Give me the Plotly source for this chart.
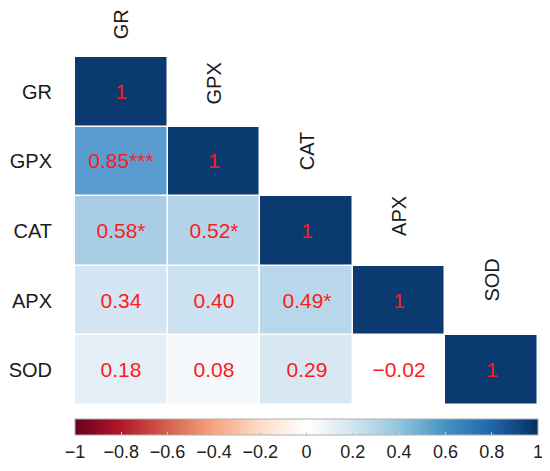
import plotly.graph_objects as go

# correlation matrix (lower triangle), rows/cols in the same order
labels = ["GR", "GPX", "CAT", "APX", "SOD"]
corr = [
    [1, None, None, None, None],
    [0.85, 1, None, None, None],
    [0.58, 0.52, 1, None, None],
    [0.34, 0.40, 0.49, 1, None],
    [0.18, 0.08, 0.29, -0.02, 1],
]
stars = [
    ["", "", "", "", ""],
    ["***", "", "", "", ""],
    ["*", "*", "", "", ""],
    ["", "", "*", "", ""],
    ["", "", "", "", ""],
]

# colour ramp for the bar (RdBu)
rdbu = ["#67001f", "#b2182b", "#d6604d", "#f4a582", "#fddbc7", "#ffffff",
        "#d1e5f0", "#92c5de", "#4393c3", "#2166ac", "#053061"]
bar_scale = [[i / 10, c] for i, c in enumerate(rdbu)]

# the cells in the picture are paler than the bar, so they get their own ramp
cell_scale = [
    [0.0, "#67001f"], [0.25, "#d6604d"], [0.4, "#fbe3d8"], [0.48, "#ffffff"],
    [0.5, "#ffffff"], [0.54, "#f4f8fb"], [0.59, "#e5eff7"], [0.645, "#d8e8f3"],
    [0.7, "#cde2f0"], [0.745, "#b8d7eb"], [0.79, "#a9cde6"], [0.925, "#5a9ccf"],
    [1.0, "#0b3a70"],
]


def fmt(v):
    if v is None:
        return ""
    if v == 1:
        return "1"
    s = f"{v:.2f}"
    return s.replace("-", "\u2212")


text = [[fmt(v) + s for v, s in zip(row, srow)] for row, srow in zip(corr, stars)]

fig = go.Figure()
fig.add_trace(go.Heatmap(
    z=corr, x=labels, y=labels, text=text, texttemplate="%{text}",
    textfont=dict(size=21, color="#ff1a1a", family="Liberation Sans, Arial"),
    colorscale=cell_scale, zmin=-1, zmax=1, showscale=False,
    xgap=1.5, ygap=1.5, hoverongaps=False,
))
# dummy trace that only carries the colour bar
fig.add_trace(go.Scatter(
    x=[None], y=[None], mode="markers", showlegend=False,
    marker=dict(color=[0], cmin=-1, cmax=1, colorscale=bar_scale, showscale=True,
                colorbar=dict(orientation="h", x=0.5, xanchor="center",
                              y=-0.040, yanchor="top", len=1, thickness=16,
                              xpad=0, ypad=0, outlinewidth=1, outlinecolor="#b0b0b0",
                              tickmode="linear", tick0=-1, dtick=0.2,
                              ticklabeloverflow="allow",
                              ticks="inside", ticklen=3, tickcolor="#cccccc",
                              tickfont=dict(size=18, color="#222222"))),
))

# column names sit on the diagonal, just above each "1" cell
for i, name in enumerate(labels):
    fig.add_annotation(x=i, y=i - 0.5, text=name, textangle=-90, showarrow=False,
                       yanchor="bottom", yshift=16 + 4 * i,
                       font=dict(size=20, color="#1a1a1a"))

fig.update_xaxes(showticklabels=False, showgrid=False, zeroline=False,
                 range=[-0.5, 4.5])
fig.update_yaxes(range=[4.5, -0.5], showgrid=False, zeroline=False,
                 tickfont=dict(size=20, color="#1a1a1a"), ticklabelstandoff=22)
# page body adds an 8px offset, so margins are pulled in by that much
fig.update_layout(
    width=550, height=471,
    margin=dict(l=67, r=20, t=49, b=74, autoexpand=False),
    plot_bgcolor="white", paper_bgcolor="white",
    font=dict(family="Liberation Sans, Arial"),
)
fig.write_html("out.html")
